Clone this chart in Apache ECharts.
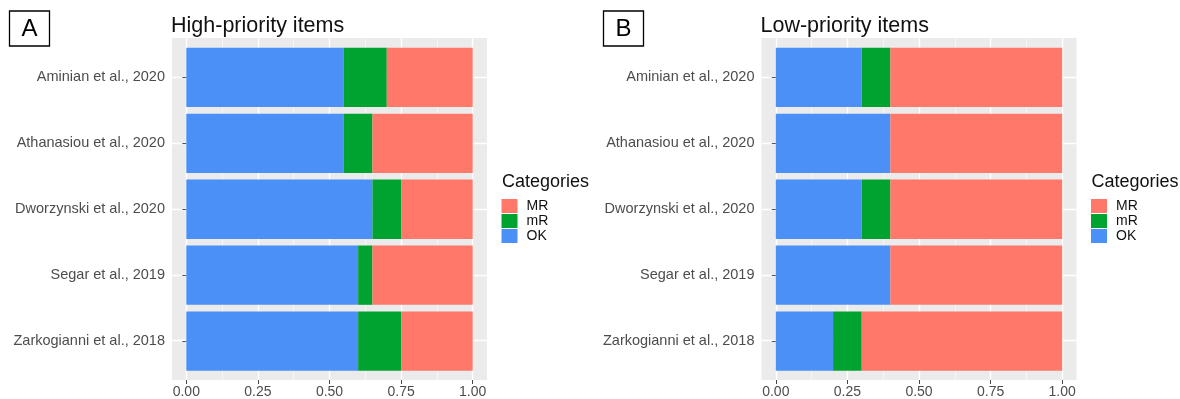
<!DOCTYPE html>
<html>
<head>
<meta charset="utf-8">
<script src="https://cdn.jsdelivr.net/npm/echarts@6/dist/echarts.min.js"></script>
<style>
html,body{margin:0;padding:0;background:#fff;}
#c{width:1180px;height:399px;}
</style>
</head>
<body>
<div id="c"></div>
<script>
const categories = ['Aminian et al., 2020', 'Athanasiou et al., 2020', 'Dworzynski et al., 2020', 'Segar et al., 2019', 'Zarkogianni et al., 2018'];
const seriesNames = ['OK', 'mR', 'MR'];
const legendOrder = ['MR', 'mR', 'OK'];
const highOK = [0.55, 0.55, 0.65, 0.60, 0.60];
const highmR = [0.15, 0.10, 0.10, 0.05, 0.15];
const highMR = [0.30, 0.35, 0.25, 0.35, 0.25];
const lowOK = [0.30, 0.40, 0.30, 0.40, 0.20];
const lowmR = [0.10, 0.00, 0.10, 0.00, 0.10];
const lowMR = [0.60, 0.60, 0.60, 0.60, 0.70];
const xMajorTicks = [0, 0.25, 0.5, 0.75, 1];
const xMinorTicks = [0.125, 0.375, 0.625, 0.875];
const yGridValues = [1, 2, 3, 4, 5];
const panelTitles = ['High-priority items', 'Low-priority items'];
const panelLetters = ['A', 'B'];
const legendTitle = 'Categories';

const colors = { OK: '#4A90F7', mR: '#00A330', MR: '#FF7869' };
const FONT = 'Liberation Sans, Arial, sans-serif';
const chart = echarts.init(document.getElementById('c'), null, { renderer: 'canvas' });

const panelLeft = [172, 761.5];
const panelW = 315;
const panelTop = 38, panelH = 342;
const barTop = 44.5, barH = 329.5;

const grids = [], xAxes = [], yAxes = [], series = [], titles = [], legends = [], graphics = [];
const panelData = [[highOK, highmR, highMR], [lowOK, lowmR, lowMR]];

for (let p = 0; p < 2; p++) {
  const L = panelLeft[p];
  const gBg = grids.length;
  grids.push({ left: L, top: panelTop, width: panelW, height: panelH, show: true, backgroundColor: '#EBEBEB', borderWidth: 0, containLabel: false });
  const gBar = grids.length;
  grids.push({ left: L, top: barTop, width: panelW, height: barH, show: false, containLabel: false });

  xAxes.push({
    type: 'value', gridIndex: gBg, min: -0.05, max: 1.05, position: 'bottom',
    axisLine: { show: false },
    axisTick: { show: true, length: 4, lineStyle: { color: '#444', width: 1 }, customValues: xMajorTicks },
    axisLabel: { show: true, customValues: xMajorTicks, margin: 5, color: '#4D4D4D', fontSize: 14, fontFamily: FONT, formatter: v => v.toFixed(2) },
    splitLine: { show: true, lineStyle: { color: '#FFFFFF', width: 1.4 } }
  });
  xAxes.push({
    type: 'value', gridIndex: gBg, min: -0.05, max: 1.05, position: 'top',
    axisLine: { show: false },
    axisTick: { show: false, customValues: xMinorTicks },
    axisLabel: { show: false, customValues: xMinorTicks },
    splitLine: { show: true, lineStyle: { color: '#FAFAFA', width: 0.7 } }
  });
  const xBar = xAxes.length;
  xAxes.push({
    type: 'value', gridIndex: gBar, min: -0.05, max: 1.05,
    axisLine: { show: false }, axisTick: { show: false }, axisLabel: { show: false }, splitLine: { show: false }
  });

  yAxes.push({
    type: 'value', gridIndex: gBg, min: 0.4, max: 5.6,
    axisLine: { show: false },
    axisTick: { show: false, customValues: yGridValues },
    axisLabel: { show: false, customValues: yGridValues },
    splitLine: { show: true, lineStyle: { color: '#FFFFFF', width: 1.4 } }
  });
  const yBar = yAxes.length;
  yAxes.push({
    type: 'category', gridIndex: gBar, data: categories, inverse: true,
    axisLine: { show: false },
    axisTick: { show: true, alignWithLabel: true, length: 4, lineStyle: { color: '#555', width: 1 } },
    axisLabel: { show: true, margin: 7, color: '#4D4D4D', fontSize: 14.5, fontFamily: FONT },
    splitLine: { show: false }
  });

  for (let s = 0; s < 3; s++) {
    const name = seriesNames[s];
    series.push({
      type: 'bar', name: name, stack: 'panel' + p, xAxisIndex: xBar, yAxisIndex: yBar,
      data: panelData[p][s], barWidth: '90%', itemStyle: { color: colors[name] },
      emphasis: { disabled: true }, silent: true, animation: false
    });
  }

  titles.push({ text: panelTitles[p], left: L - 1, top: 15, padding: 0, textStyle: { fontFamily: FONT, fontSize: 21.5, fontWeight: 'normal', color: '#111' } });
  titles.push({ text: legendTitle, left: L + 330, top: 173, padding: 0, textStyle: { fontFamily: FONT, fontSize: 18, fontWeight: 'normal', color: '#111' } });
  legends.push({
    data: legendOrder, orient: 'vertical', left: L + 329.5, top: 199, padding: 0,
    itemWidth: 16, itemHeight: 14, itemGap: 1, icon: 'rect', selectedMode: false,
    textStyle: { fontFamily: FONT, fontSize: 14, color: '#111', padding: [0, 0, 0, 4] }
  });

  const bx = p === 0 ? 9.5 : 603.5;
  graphics.push({ type: 'rect', shape: { x: bx, y: 11, width: 40, height: 35 }, style: { fill: '#fff', stroke: '#000', lineWidth: 1.3 } });
  graphics.push({ type: 'text', x: bx + 20, y: 29, style: { text: panelLetters[p], fontFamily: FONT, fontSize: 24, fill: '#000', align: 'center', verticalAlign: 'middle' } });
}

chart.setOption({
  animation: false,
  title: titles,
  legend: legends,
  grid: grids,
  xAxis: xAxes,
  yAxis: yAxes,
  series: series,
  graphic: graphics
});
</script>
</body>
</html>
